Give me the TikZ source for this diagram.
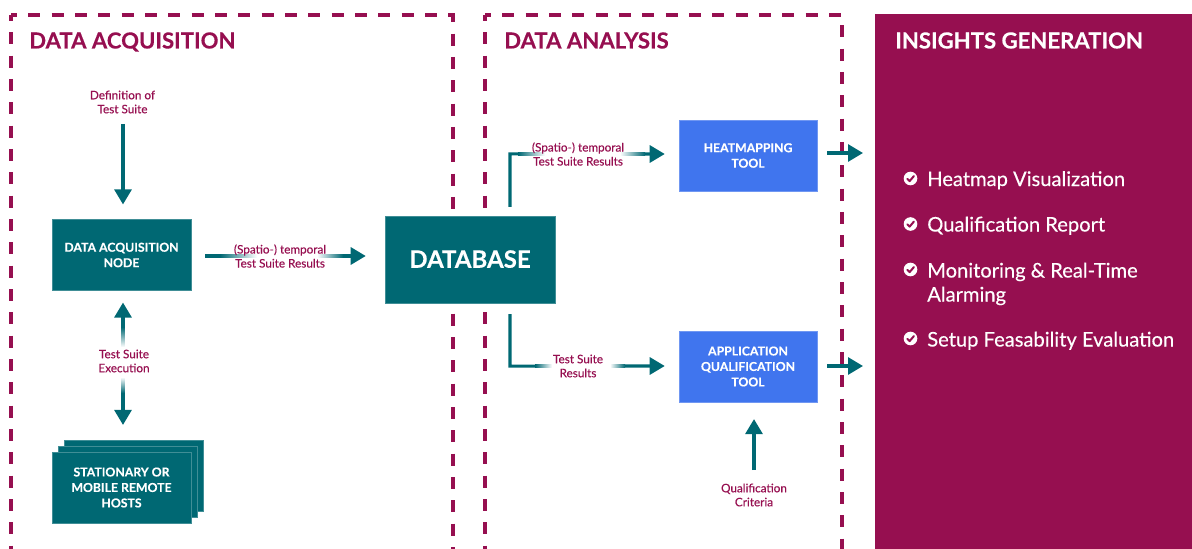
\documentclass[tikz,border=0pt]{standalone}
\usepackage{fontspec}
\setmainfont[BoldFeatures={FakeBold=0.3}]{Lato}
\newfontfamily\medfont[FakeBold=0.3]{Lato}
\usetikzlibrary{arrows.meta,calc}
\definecolor{wine}{HTML}{960F50}
\definecolor{teal}{HTML}{006873}
\definecolor{azure}{HTML}{4075EE}
\tikzset{
  x=.75pt,y=-.75pt,
  dashframe/.style={draw=wine,line width=2.7pt,dash pattern=on 9pt off 8.5pt,dash phase=4.5pt},
  box/.style={draw=#1!75!white,line width=.4pt,fill=#1,text=white,font=\bfseries\fontsize{9.2}{11.6}\selectfont,align=center,inner sep=0pt,minimum width=104.25pt,minimum height=53pt,execute at begin node={\rule{0pt}{8.2pt}}},
  conn/.style={draw=teal,line width=2.3pt,-{Triangle[length=11.25pt,width=12.75pt]}},
  both/.style={draw=teal,line width=2.3pt,{Triangle[length=11.25pt,width=12.75pt]}-{Triangle[length=11.25pt,width=12.75pt]}},
  lbl/.style={text=wine,font=\medfont\fontsize{8.8}{10.5}\selectfont,align=center,inner sep=0pt},
  head/.style={anchor=base west,inner sep=0pt,font=\bfseries\fontsize{16.6}{20}\selectfont},
  item/.style={anchor=base west,inner sep=0pt,text=white,align=left,font=\medfont\fontsize{15.1}{18}\selectfont},
}
\newcommand{\fadeh}[5]{% x1 x2 x3 x4 y
  \shade[left color=teal,right color=white] (#1,#5-1.8) rectangle (#2,#5+1.8);
  \fill[white] (#2,#5-1.8) rectangle (#3,#5+1.8);
  \shade[left color=white,right color=teal] (#3,#5-1.8) rectangle (#4,#5+1.8);}
\newcommand{\checkicon}[2]{%
  \fill[white] (#1,#2) circle[radius=6.8];
  \draw[wine,line width=1.5pt,line cap=round,line join=round] (#1-3.2,#2+.3) -- (#1-.9,#2+2.6) -- (#1+3.4,#2-2.4);}
\begin{document}
\begin{tikzpicture}
\useasboundingbox (0,0) rectangle (1192,549);
% frames and panel
\draw[dashframe] (11,15) -- (11,549);
\draw[dashframe] (11,15) -- (453,15) -- (453,549);
\draw[dashframe] (485,15) -- (485,549);
\draw[dashframe] (485,15) -- (842,15) -- (842,549);
\fill[wine] (875,14) rectangle (1192,549);
% boxes
\node[box=teal] (h3) at (133.5,475.5) {};
\node[box=teal] (h2) at (127.5,481.5) {};
\node[box=teal] (hosts) at (121.5,487.5) {STATIONARY OR\\MOBILE REMOTE\\HOSTS};
\node[box=teal] (dan) at (121.5,255) {DATA ACQUISITION\\NODE};
\node[box=teal,minimum width=127.5pt,minimum height=65pt,font=\bfseries\fontsize{18}{22}\selectfont,execute at begin node={}] (db) at (470,259.5) {\raisebox{.75pt}{DATABASE}};
\node[box=azure,minimum width=103.5pt] (heat) at (748,155.5) {HEATMAPPING\\TOOL};
\node[box=azure,minimum width=103.5pt] (appq) at (748,366.5) {APPLICATION\\QUALIFICATION\\TOOL};
% free ends
\coordinate (defend) at (123,124);
\coordinate (critend) at (754,470);
\coordinate (out1) at (863,153);
\coordinate (out2) at (863,366);
% connectors
\draw[conn] (defend) -- ([xshift=1.5*.75pt,yshift=15*.75pt]dan.north);
\draw[conn] ([xshift=14*.75pt,yshift=-1*.75pt]dan.east) -- ([xshift=-19*.75pt,yshift=3.5*.75pt]db.west);
\draw[both] ([xshift=1.5*.75pt,yshift=-12*.75pt]dan.south) -- ([xshift=1.5*.75pt,yshift=27*.75pt]hosts.north);
\draw[conn] ([xshift=40*.75pt,yshift=9*.75pt]db.north) -- ++(0,-53) -- ([xshift=-14*.75pt,yshift=1.5*.75pt]heat.west);
\draw[conn] ([xshift=40*.75pt,yshift=-11*.75pt]db.south) -- ++(0,52) -- ([xshift=-14*.75pt,yshift=.5*.75pt]appq.west);
\draw[conn] ([xshift=10*.75pt,yshift=2.5*.75pt]heat.east) -- (out1);
\draw[conn] ([xshift=10*.75pt,yshift=.5*.75pt]appq.east) -- (out2);
\draw[conn] (critend) -- ([xshift=6*.75pt,yshift=-17*.75pt]appq.south);
% label halos
\fadeh{220}{257}{317}{343}{256}
\fadeh{518}{545}{620}{645}{154}
\fadeh{535}{552}{610}{625}{366}
\shade[top color=teal,bottom color=white] (121.2,327) rectangle (124.8,347);
\fill[white] (121.2,347) rectangle (124.8,377);
\shade[top color=white,bottom color=teal] (121.2,377) rectangle (124.8,393);
% labels
\node[lbl] (l1) at (122.5,102) {Definition of\\Test Suite};
\node[lbl] (l2) at (280,256) {(Spatio-) temporal\\Test Suite Results};
\node[lbl] (l3) at (124,361) {Test Suite\\Execution};
\node[lbl] (l4) at (578,154) {(Spatio-) temporal\\Test Suite Results};
\node[lbl] (l5) at (578,366) {Test Suite\\Results};
\node[lbl] (l6) at (754,495) {Qualification\\Criteria};
% headings
\node[head,text=wine] (t1) at (29,48.5) {DATA ACQUISITION};
\node[head,text=wine] (t2) at (504,48.5) {DATA ANALYSIS};
\node[head,text=white] (t3) at (895,48.5) {INSIGHTS GENERATION};
% list
\checkicon{910.5}{178.5}
\node[item] (i1) at (927,186) {Heatmap Visualization};
\checkicon{910.5}{224}
\node[item] (i2) at (927,231.5) {Qualification Report};
\checkicon{910.5}{269.5}
\node[item] (i3) at (927,277.5) {Monitoring \& Real-Time};
\node[item] (i3b) at (927,301.5) {Alarming};
\checkicon{910.5}{338.5}
\node[item] (i4) at (927,346.5) {Setup Feasability Evaluation};
\end{tikzpicture}
\end{document}
